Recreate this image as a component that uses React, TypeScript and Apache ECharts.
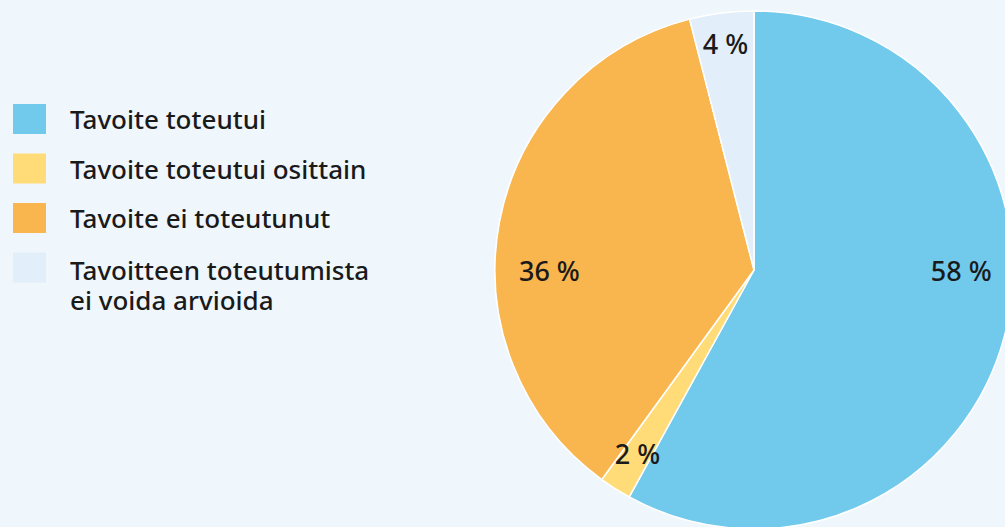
import React, { useEffect, useRef } from "react";
import * as echarts from "echarts";

const categories = [
  "Tavoite toteutui",
  "Tavoite toteutui osittain",
  "Tavoite ei toteutunut",
  "Tavoitteen toteutumista\nei voida arvioida",
];
const values = [58, 2, 36, 4];
const colors = ["#71c9ec", "#ffdc78", "#f9b54e", "#e2eef9"];
const labelTexts = ["58 %", "2 %", "36 %", "4 %"];

const CX = 754;
const CY = 270;
const R = 259;

export default function App() {
  const ref = useRef<HTMLDivElement>(null);
  useEffect(() => {
    document.body.style.margin = "0";
    const chart = echarts.init(ref.current!, null, { renderer: "svg" });
    const total = values.reduce((a, b) => a + b, 0);
    const labelRadius = [0.8, 0.84, 0.79, 0.88];
    const labelAngleOverride: (number | null)[] = [90, null, 270, null];
    const font = "'Noto Sans', 'Open Sans', sans-serif";
    const legendText = {
      fontFamily: font,
      fontSize: 26,
      fontWeight: 500,
      color: "#1a1a1a",
      lineHeight: 30,
      padding: [0, 0, 0, 19],
    };
    chart.setOption({
      animation: false,
      backgroundColor: "#eff7fd",
      color: colors,
      legend: [
        {
          data: categories.slice(0, 3),
          orient: "vertical",
          left: 13,
          top: 104,
          padding: 0,
          itemWidth: 33,
          itemHeight: 30,
          itemGap: 19.5,
          selectedMode: false,
          icon: "rect",
          itemStyle: { borderWidth: 0 },
          textStyle: legendText,
        },
        {
          data: categories.slice(3),
          orient: "vertical",
          left: 13,
          top: 252.5,
          padding: 0,
          itemWidth: 33,
          itemHeight: 65,
          selectedMode: false,
          icon: "path://M0,0h33v30h-33zM0,64.99h0.01v0.01h-0.01z",
          itemStyle: { borderWidth: 0 },
          textStyle: legendText,
        },
      ],
      series: [
        {
          type: "pie",
          center: [CX, CY],
          radius: R,
          startAngle: 90,
          clockwise: true,
          itemStyle: { borderColor: "#ffffff", borderWidth: 1.5 },
          label: {
            show: true,
            position: "inside",
            fontFamily: font,
            fontSize: 27,
            fontWeight: 500,
            color: "#1a1a1a",
            formatter: (p: any) => labelTexts[p.dataIndex],
          },
          labelLine: { show: false },
          labelLayout: (p: any) => {
            const i = p.dataIndex;
            let cum = 0;
            for (let k = 0; k < i; k++) cum += values[k];
            let ang = ((cum + values[i] / 2) / total) * 360;
            if (labelAngleOverride[i] !== null) ang = labelAngleOverride[i] as number;
            const rad = (ang * Math.PI) / 180;
            const rr = labelRadius[i] * R;
            return {
              x: CX + Math.sin(rad) * rr,
              y: CY - Math.cos(rad) * rr,
              align: "center",
              verticalAlign: "middle",
            };
          },
          data: categories.map((c, i) => ({ name: c, value: values[i] })),
        },
      ],
    });
    return () => chart.dispose();
  }, []);
  return <div ref={ref} style={{ width: 1005, height: 527 }} />;
}
